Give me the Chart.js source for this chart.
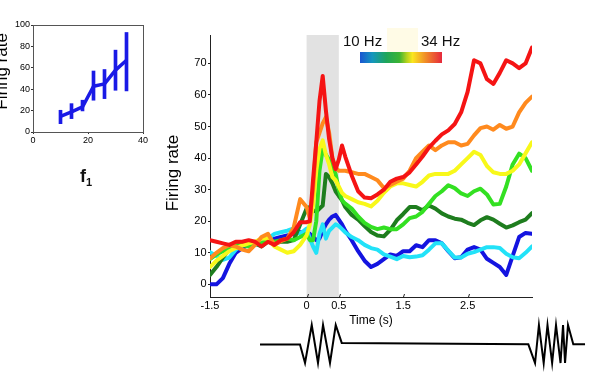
<!DOCTYPE html>
<html><head><meta charset="utf-8">
<script src="https://cdn.jsdelivr.net/npm/chart.js@4.4.0/dist/chart.umd.min.js"></script>
<style>
html,body{margin:0;padding:0;background:#fff;width:600px;height:379px;overflow:hidden;position:relative;font-family:"Liberation Sans",Arial,sans-serif;}
canvas{position:absolute;}
#main{left:0;top:0;}
#inset{left:-10px;top:0;}
#stim{left:0;top:310px;}
.lbl{position:absolute;font-size:15px;line-height:15px;color:#111;white-space:nowrap;}
#f1{position:absolute;left:80px;top:167px;font-size:18px;line-height:18px;font-weight:bold;color:#111;}
</style></head><body>
<canvas id="inset" width="170" height="160"></canvas>
<canvas id="main" width="600" height="379"></canvas>
<canvas id="stim" width="600" height="69"></canvas>
<div class="lbl" style="left:343px;top:33px">10 Hz</div>
<div class="lbl" style="left:421px;top:33px">34 Hz</div>
<div id="f1">f<span style="font-size:11px;position:relative;top:4px;">1</span></div>
<script>
// ---- main chart data ----
const times = [-1.5,-1.4,-1.3,-1.2,-1.1,-1.0,-0.9,-0.8,-0.7,-0.6,-0.5,-0.4,-0.3,-0.2,-0.1,0,
  0.05,0.1,0.15,0.2,0.25,0.3,0.35,0.4,0.45,0.5,0.55,0.6,
  0.7,0.8,0.9,1.0,1.1,1.2,1.3,1.4,1.5,1.6,1.7,1.8,1.9,2.0,2.1,2.2,2.3,2.4,2.5,2.6,2.7,2.8,2.9,3.0,3.1,3.2,3.3,3.4,3.5];
const rateBlue = [0,0,2,6.5,10,11.5,12.5,13,12.5,14,14.5,15,15.5,16,16.5,16.5,
  16,15,14,14.5,17,19,20.5,21.5,22,20.5,19,17,
  14,10.5,7.5,5.5,6.5,8,9.5,9,10.5,10.5,12.4,11.8,14,14,13,10.5,8.3,8.6,11,11.8,11,8.1,6.8,5.5,3,9,15,16.3,16];
const rateCyan = [10.2,9,7.8,8.5,11,12.4,13,12.5,13.5,14.5,16,16.5,17,17.7,16,17.7,
  14.5,12,10,16,19,14.5,17,18,19,18.5,17.5,16.5,
  15,14,12.5,11.5,11,9.5,8.8,8,9,8.6,8.8,9.2,11,13,13,10.7,8.5,8.5,9.7,10.2,11,11.8,11.8,11.5,9.7,8.6,8.3,10,12];
const rateDarkGreen = [3,5.5,8.5,11,13,13,12.5,13,12,13.5,13,13.5,13.5,14,19,24,
  24.5,23.5,23,24,25,35,34,32,29.5,28,26.6,24.5,
  22,20.5,18.5,16.6,15.5,15.2,17.3,20.3,22.3,24.5,24.5,23.5,25,24,22.5,21.5,20.8,20.5,19.5,18.8,20.3,21.3,20.5,19.2,18,18.7,19.7,20.5,22.6];
const rateGreen = [8,9.5,10.5,11.5,12.5,12.5,12,13,13,14,13.5,14,14.5,14,15,16,
  14,14,20,36,43,41,39.5,37.5,35,30,26.6,25.6,
  24,21.5,19.5,18.2,17.5,18,17.5,17.5,19,21,21.5,23,25.5,28,29.5,31.4,30.5,28.8,28,29.5,30.3,28.5,25.3,25.5,31,38,41.4,40,36];
const rateYellow = [5.5,7.5,9,10.5,11.5,12.3,13,13.5,14.5,14.5,12,11,10,10.5,12.5,15.5,
  19,25,36,43,45.6,41,38,34,33,31,29,28,
  27,26,25.5,24.7,26.5,29,31,32,32,31.5,31,32.5,34.5,35,35,35,36,38,40,42,41,37.5,35.5,35,35,36,38,41.5,45];
const rateOrange = [8.2,10,11.5,12.4,12,11,10.5,12.5,15,16,12.5,13.7,14.5,18,27,24.5,
  21,30,45,48,51,53,48,40,37,36,36,36,
  35.5,35,35,34,33,30.5,31.5,32.5,33.5,36,40,42,44,42.5,44,45,45,44,44.5,47.2,49.5,50,49,50.5,49.3,50,54.5,57.5,59.5];
const rateRed = [14,13.5,13,12.5,13.5,13.5,14,13.5,12,13.5,12.5,14,14.5,16.5,19.7,19.7,
  20,33,45,58,66,55,46,40,36.5,39.5,44,40.5,
  34.5,29.5,27.5,27.3,28.5,30,32.5,33.5,34,35.5,38,40.5,43.3,45.5,47.5,48.8,50.8,54.5,61,71,70,65,63.5,67,71,70,68.5,70,75];
const xTickVals = [-1.5,0,0.5,1.5,2.5];
const yTickVals = [0,10,20,30,40,50,60,70];
const stimWindow = [0,0.5];

// ---- inset data ----
const f1Vals = [10,14,18,22,26,30,34];
const f1Mean = [14.7,18.8,23.4,42.8,45,57.8,67];
const f1Low  = [7.8,12.5,19.7,29.7,31.2,39,38.4];
const f1High = [20.3,26.5,29.7,57,58.4,76.5,93];
const insetXTicks = [0,20,40];
const insetYTicks = [0,20,40,60,80,100];

// ---- stimulus waveform ----
const stimT = [-0.724,-0.104,-0.026,0.078,0.175,0.253,0.361,0.45,0.543,3.436,3.54,3.60,3.674,3.733,3.805,3.865,3.935,3.974,4.005,4.051,4.133,4.315];
const stimA = [0,0,-0.95,1,-0.95,1,-0.95,1,0.08,0.01,-0.95,1,-0.95,1,-0.95,1,-0.95,1,-0.95,1,0.01,0.01];

Chart.defaults.font.family = '"Liberation Sans", Arial, sans-serif';
Chart.defaults.color = '#000';

const pts = arr => times.map((t,i)=>({x:t,y:arr[i]}));
const ln = (arr,color) => ({data:pts(arr),borderColor:color,backgroundColor:color,borderWidth:4,borderJoinStyle:'round',borderCapStyle:'round',pointRadius:0,tension:0,fill:false});

const decor = {
  id:'decor',
  beforeDatasetsDraw(chart){
    const {ctx,chartArea:a,scales:{x}} = chart;
    ctx.save();
    ctx.fillStyle = '#e2e2e2';
    const x0 = x.getPixelForValue(stimWindow[0]), x1 = x.getPixelForValue(stimWindow[1]);
    ctx.fillRect(x0,a.top,x1-x0,a.bottom-a.top);
    ctx.fillStyle = '#fffbe6';
    ctx.fillRect(387,28,31,24);
    const g = ctx.createLinearGradient(360,0,442,0);
    g.addColorStop(0,'#1a55d2');
    g.addColorStop(0.15,'#1496be');
    g.addColorStop(0.32,'#1ea55a');
    g.addColorStop(0.48,'#3cb432');
    g.addColorStop(0.57,'#b4d21e');
    g.addColorStop(0.64,'#fae61e');
    g.addColorStop(0.8,'#f08c28');
    g.addColorStop(1,'#e6283c');
    ctx.fillStyle = g;
    ctx.fillRect(360,52,82,11);
    ctx.restore();
  },
  afterDraw(chart){
    const {ctx,chartArea:a,scales:{x}} = chart;
    ctx.save();
    ctx.strokeStyle = '#222'; ctx.lineWidth = 1;
    x.ticks.forEach(t=>{
      if (t.value === x.min) return;
      const px = Math.round(x.getPixelForValue(t.value))+0.5;
      ctx.beginPath(); ctx.moveTo(px,a.bottom); ctx.lineTo(px+1,a.bottom-3); ctx.stroke();
    });
    ctx.restore();
  }
};

new Chart(document.getElementById('main'), {
  type:'line',
  data:{datasets:[
    ln(rateRed,'#f51414'),
    ln(rateOrange,'#ff8a1e'),
    ln(rateYellow,'#f8f81a'),
    ln(rateGreen,'#33e022'),
    ln(rateDarkGreen,'#1e7d1e'),
    ln(rateCyan,'#22e2f8'),
    ln(rateBlue,'#1414e0')
  ]},
  options:{
    responsive:false, animation:false, devicePixelRatio:1,
    layout:{padding:{left:163,top:35,right:68,bottom:51}},
    plugins:{legend:{display:false},tooltip:{enabled:false}},
    scales:{
      x:{type:'linear',min:-1.5,max:3.5,
        afterBuildTicks(s){ s.ticks = xTickVals.map(v=>({value:v})); },
        afterFit(s){ s.height = 31; },
        ticks:{font:{size:11},padding:2,autoSkip:false,maxRotation:0,callback:v=>String(v)},
        grid:{drawOnChartArea:false,tickLength:0,color:'#222'},
        border:{color:'#222',width:1},
        title:{display:true,text:'Time (s)',font:{size:12},padding:{top:0,bottom:0}}
      },
      y:{type:'linear',min:-4,max:79,
        afterBuildTicks(s){ s.ticks = yTickVals.map(v=>({value:v})); },
        afterFit(s){ s.width = 47; },
        ticks:{font:{size:11},padding:1.5,autoSkip:false,callback:v=>String(v)},
        grid:{drawOnChartArea:false,tickLength:2,color:'#222'},
        border:{color:'#222',width:1},
        title:{display:true,text:'Firing rate   ',font:{size:17},padding:{top:0,bottom:0}}
      }
    }
  },
  plugins:[decor]
});

const boxPlugin = {
  id:'box',
  afterDraw(chart){
    const {ctx,chartArea:a} = chart;
    ctx.save(); ctx.strokeStyle='#555'; ctx.lineWidth=1;
    ctx.strokeRect(Math.round(a.left)+0.5,Math.round(a.top)+0.5,Math.round(a.right-a.left),Math.round(a.bottom-a.top));
    ctx.restore();
  }
};
const insetBlue = '#1a1ae6';
new Chart(document.getElementById('inset'), {
  type:'bar',
  data:{datasets:[
    {type:'line',data:f1Vals.map((f,i)=>({x:f,y:f1Mean[i]})),borderColor:insetBlue,borderWidth:3.5,borderJoinStyle:'round',pointRadius:0,tension:0},
    {type:'bar',data:f1Vals.map((f,i)=>({x:f,y:[f1Low[i],f1High[i]]})),backgroundColor:insetBlue,barThickness:3,borderWidth:0}
  ]},
  options:{
    responsive:false, animation:false, devicePixelRatio:1,
    layout:{padding:{left:2,top:25,right:17,bottom:8}},
    plugins:{legend:{display:false},tooltip:{enabled:false}},
    scales:{
      x:{type:'linear',min:0,max:40,offset:false,
        afterBuildTicks(s){ s.ticks = insetXTicks.map(v=>({value:v})); },
        afterFit(s){ s.height = 20; },
        ticks:{font:{size:9},padding:1,autoSkip:false,maxRotation:0},
        grid:{drawOnChartArea:false,offset:false,tickLength:2,color:'#333'},
        border:{color:'#333'}
      },
      y:{type:'linear',min:0,max:100,
        afterBuildTicks(s){ s.ticks = insetYTicks.map(v=>({value:v})); },
        afterFit(s){ s.width = 41; },
        ticks:{font:{size:9},padding:1,autoSkip:false},
        grid:{drawOnChartArea:false,tickLength:2,color:'#333'},
        border:{color:'#333'},
        title:{display:true,text:'   Firing rate',font:{size:17},padding:{top:0,bottom:0}}
      }
    }
  },
  plugins:[boxPlugin]
});

new Chart(document.getElementById('stim'), {
  type:'line',
  data:{datasets:[{data:stimT.map((t,i)=>({x:t,y:stimA[i]})),borderColor:'#000',borderWidth:2,pointRadius:0,tension:0,clip:false}]},
  options:{
    responsive:false, animation:false, devicePixelRatio:1,
    layout:{padding:0},
    plugins:{legend:{display:false},tooltip:{enabled:false}},
    scales:{
      x:{type:'linear',display:false,min:-4.755,max:4.547},
      y:{type:'linear',display:false,min:-1.77,max:1.77}
    }
  }
});
</script>
</body></html>
